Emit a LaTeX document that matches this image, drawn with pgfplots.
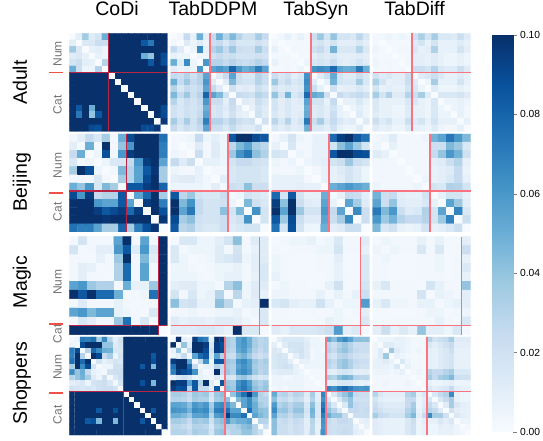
\documentclass[border=0pt]{standalone}
\usepackage{fontspec}
\setmainfont{Liberation Sans}
\usepackage{pgfplots}
\pgfplotsset{compat=1.18}
\definecolor{septick}{RGB}{240,80,70}
\pgfplotsset{
  colormap={blues}{rgb255=(247,251,255) rgb255=(222,235,247) rgb255=(198,219,239) rgb255=(158,202,225)
    rgb255=(107,174,214) rgb255=(66,146,198) rgb255=(33,113,181) rgb255=(8,81,156) rgb255=(8,48,107)},
  panel/.style={scale only axis, width=98pt, height=98pt, hide axis, anchor=north west,
    y dir=reverse, enlargelimits=false, clip=true, colormap name=blues, point meta min=0, point meta max=100},
}
% separators are thin filled bars, a little over one pixel wide
\makeatletter
\newcommand{\sepl}{\pgfsys@color@rgb@fill{0.98}{0.45}{0.50}}
\newcommand{\sepd}{\pgfsys@color@rgb@fill{0.73}{0.14}{0.27}}
\makeatother
\newcommand{\sepbar}[5]{%
  \begin{pgfscope}#1%
    \pgfpathrectangle{\pgfpoint{#2pt}{#3pt}}{\pgfpoint{#4pt}{#5pt}}\pgfusepath{fill}%
  \end{pgfscope}}
% values in units of 0.001; #1 line colour, #2 x, #3 y from top (px), #4 cells, #5 numeric features, #6 cells row by row
\newcommand{\hm}[6][\sepl]{%
  \pgfmathsetmacro{\hmy}{441-#3}%
  \pgfmathsetmacro{\hmb}{\hmy-98}%
  \pgfmathsetmacro{\hmmax}{#4-0.5}%
  \pgfmathsetmacro{\hmsx}{#2+98*#5/#4-0.7}%
  \pgfmathsetmacro{\hmsy}{\hmy-98*#5/#4-0.7}%
  \begin{axis}[panel, at={(#2pt,\hmy pt)}, xmin=-0.5, xmax=\hmmax, ymin=-0.5, ymax=\hmmax]
    \addplot[matrix plot*, mesh/cols=#4, point meta=explicit] table[header=false, row sep=\\,
      x expr={\coordindex-#4*floor((\coordindex+0.5)/#4)}, y expr={floor((\coordindex+0.5)/#4)}, meta index=0] {#6};
  \end{axis}
  \sepbar{#1}{\hmsx}{\hmb}{1.4}{98}%
  \sepbar{#1}{#2}{\hmsy}{98}{1.4}}
\newcommand{\ttl}[2]{\node[anchor=base, font=\fontsize{19.5}{22}\selectfont] at (#1pt,425pt) {#2};}
\newcommand{\rowl}[2]{\node[anchor=base, rotate=90, font=\fontsize{19.5}{22}\selectfont] at (27pt,#1pt) {#2};}
\newcommand{\subl}[2]{\node[anchor=base, rotate=90, text=black!55, font=\fontsize{12}{14}\selectfont] at (61.5pt,#1pt) {#2};}
\newcommand{\rtick}[1]{\draw[septick, line width=1.2pt] (49pt,#1pt) -- (63pt,#1pt);}
\begin{document}
\begin{tikzpicture}[x=1pt,y=1pt]
\useasboundingbox (0,0) rectangle (543,441);

% Adult
\hm[\sepd]{69.3}{33.3}{15}{6}{
0\\10\\37\\12\\18\\50\\100\\100\\100\\100\\100\\100\\100\\100\\100\\
10\\0\\14\\14\\22\\22\\100\\100\\100\\100\\100\\85\\72\\100\\100\\
37\\14\\0\\8\\10\\5\\100\\100\\100\\100\\100\\100\\100\\100\\100\\
12\\14\\8\\0\\8\\5\\100\\100\\100\\100\\100\\50\\40\\100\\90\\
18\\22\\10\\8\\0\\30\\100\\100\\100\\100\\100\\100\\85\\100\\88\\
50\\22\\5\\5\\30\\0\\100\\100\\100\\100\\100\\100\\100\\100\\100\\
100\\100\\100\\100\\100\\100\\0\\100\\100\\100\\100\\100\\100\\100\\100\\
100\\100\\100\\100\\100\\100\\100\\0\\100\\100\\100\\100\\100\\100\\100\\
100\\100\\100\\100\\100\\100\\100\\100\\0\\100\\100\\100\\100\\100\\100\\
100\\100\\100\\100\\100\\100\\100\\100\\100\\0\\100\\100\\100\\100\\100\\
100\\100\\100\\100\\100\\100\\100\\100\\100\\100\\0\\100\\100\\100\\100\\
100\\85\\100\\50\\100\\100\\100\\100\\100\\100\\100\\0\\100\\100\\90\\
100\\72\\100\\40\\85\\100\\100\\100\\100\\100\\100\\100\\0\\100\\90\\
100\\100\\100\\100\\100\\100\\100\\100\\100\\100\\100\\100\\100\\0\\97\\
100\\100\\100\\90\\88\\100\\100\\100\\100\\100\\100\\90\\90\\97\\0\\
}
\hm{170.7}{33.3}{15}{6}{
0\\3\\25\\8\\50\\10\\25\\50\\30\\45\\30\\20\\20\\35\\25\\
3\\0\\12\\5\\12\\5\\22\\25\\15\\25\\15\\15\\15\\20\\15\\
25\\12\\0\\5\\65\\8\\30\\38\\25\\38\\22\\20\\20\\35\\22\\
8\\5\\5\\0\\5\\5\\20\\25\\20\\22\\18\\18\\18\\20\\18\\
50\\12\\65\\5\\0\\60\\30\\30\\25\\30\\25\\22\\25\\30\\25\\
10\\5\\8\\5\\60\\0\\55\\60\\55\\80\\60\\50\\55\\70\\55\\
25\\22\\30\\20\\30\\55\\0\\12\\25\\55\\22\\15\\15\\30\\22\\
50\\25\\38\\25\\30\\60\\12\\0\\12\\45\\22\\18\\18\\30\\22\\
30\\15\\25\\20\\25\\55\\25\\12\\0\\20\\10\\12\\10\\22\\15\\
45\\25\\38\\22\\30\\80\\55\\45\\20\\0\\25\\22\\20\\30\\25\\
30\\15\\22\\18\\25\\60\\22\\22\\10\\25\\0\\12\\10\\22\\15\\
20\\15\\20\\18\\22\\50\\15\\18\\12\\22\\12\\0\\8\\18\\12\\
20\\15\\20\\18\\25\\55\\15\\18\\10\\20\\10\\8\\0\\20\\12\\
35\\20\\35\\20\\30\\70\\30\\30\\22\\30\\22\\18\\20\\0\\20\\
25\\15\\22\\18\\25\\55\\22\\22\\15\\25\\15\\12\\12\\20\\0\\
}
\hm{271.7}{33.3}{15}{6}{
0\\3\\8\\3\\8\\3\\22\\38\\18\\40\\18\\18\\15\\28\\15\\
3\\0\\2\\2\\3\\2\\15\\18\\12\\18\\10\\10\\10\\15\\10\\
8\\2\\0\\3\\3\\3\\20\\25\\15\\48\\15\\15\\15\\30\\15\\
3\\2\\3\\0\\2\\2\\10\\15\\12\\15\\10\\10\\10\\12\\10\\
8\\3\\3\\2\\0\\5\\15\\18\\15\\22\\12\\10\\12\\18\\12\\
3\\2\\3\\2\\5\\0\\62\\65\\62\\78\\55\\50\\52\\72\\50\\
22\\15\\20\\10\\15\\62\\0\\12\\22\\52\\18\\12\\12\\22\\15\\
38\\18\\25\\15\\18\\65\\12\\0\\8\\48\\18\\15\\15\\35\\15\\
18\\12\\15\\12\\15\\62\\22\\8\\0\\20\\8\\10\\10\\15\\10\\
40\\18\\48\\15\\22\\78\\52\\48\\20\\0\\25\\18\\22\\25\\20\\
18\\10\\15\\10\\12\\55\\18\\18\\8\\25\\0\\8\\8\\15\\8\\
18\\10\\15\\10\\10\\50\\12\\15\\10\\18\\8\\0\\5\\10\\5\\
15\\10\\15\\10\\12\\52\\12\\15\\10\\22\\8\\5\\0\\12\\5\\
28\\15\\30\\12\\18\\72\\22\\35\\15\\25\\15\\10\\12\\0\\12\\
15\\10\\15\\10\\12\\50\\15\\15\\10\\20\\8\\5\\5\\12\\0\\
}
\hm{372.7}{33.3}{15}{6}{
2\\3\\5\\3\\5\\3\\20\\33\\18\\35\\15\\15\\12\\22\\12\\
3\\0\\2\\2\\2\\2\\12\\18\\8\\18\\8\\8\\8\\12\\8\\
5\\2\\0\\2\\3\\3\\15\\8\\10\\32\\8\\8\\8\\18\\10\\
3\\2\\2\\0\\2\\2\\10\\10\\8\\12\\8\\5\\5\\8\\5\\
5\\2\\3\\2\\0\\3\\10\\10\\8\\12\\8\\5\\5\\8\\5\\
3\\2\\3\\2\\3\\0\\22\\22\\18\\30\\15\\12\\12\\22\\12\\
20\\12\\15\\10\\10\\22\\0\\12\\15\\22\\15\\8\\8\\12\\8\\
33\\18\\8\\10\\10\\22\\12\\0\\5\\35\\8\\8\\8\\18\\8\\
18\\8\\10\\8\\8\\18\\15\\5\\0\\12\\5\\5\\5\\8\\5\\
35\\18\\32\\12\\12\\30\\22\\35\\12\\0\\15\\15\\15\\18\\12\\
15\\8\\8\\8\\8\\15\\15\\8\\5\\15\\0\\5\\5\\8\\5\\
15\\8\\8\\5\\5\\12\\8\\8\\5\\15\\5\\0\\5\\8\\3\\
12\\8\\8\\5\\5\\12\\8\\8\\5\\15\\5\\5\\0\\8\\3\\
22\\12\\18\\8\\8\\22\\12\\18\\8\\18\\8\\8\\8\\0\\8\\
12\\8\\10\\5\\5\\12\\8\\8\\5\\12\\5\\3\\3\\8\\0\\
}

% Beijing
\hm[\sepd]{69.3}{134}{12}{7}{
3\\10\\25\\15\\35\\2\\50\\90\\100\\100\\100\\75\\
10\\2\\50\\2\\100\\3\\40\\60\\100\\100\\100\\70\\
25\\50\\0\\5\\88\\3\\60\\95\\100\\100\\100\\70\\
15\\2\\5\\0\\5\\15\\15\\25\\60\\95\\100\\55\\
35\\100\\88\\5\\0\\3\\45\\30\\55\\85\\98\\35\\
2\\3\\3\\15\\3\\0\\35\\30\\55\\90\\100\\35\\
50\\40\\60\\15\\45\\35\\2\\85\\85\\95\\100\\80\\
90\\60\\95\\25\\30\\30\\85\\2\\55\\78\\100\\35\\
100\\100\\100\\60\\55\\55\\85\\55\\0\\95\\100\\70\\
100\\100\\100\\95\\85\\90\\95\\78\\95\\0\\100\\88\\
100\\100\\100\\100\\98\\100\\100\\100\\100\\100\\0\\98\\
75\\70\\70\\55\\35\\35\\80\\35\\70\\88\\98\\0\\
}
\hm{170.7}{134}{12}{7}{
2\\3\\5\\25\\5\\10\\5\\85\\100\\100\\90\\85\\
3\\0\\3\\12\\3\\12\\5\\28\\45\\55\\35\\28\\
5\\3\\0\\22\\3\\12\\5\\38\\62\\72\\42\\32\\
25\\12\\22\\0\\8\\8\\5\\18\\25\\25\\20\\18\\
5\\3\\3\\8\\0\\3\\3\\15\\18\\18\\18\\15\\
10\\12\\12\\8\\3\\0\\10\\15\\18\\18\\18\\15\\
5\\5\\5\\5\\3\\10\\2\\22\\20\\42\\22\\22\\
85\\28\\38\\18\\15\\15\\22\\2\\5\\18\\15\\12\\
100\\45\\62\\25\\18\\18\\20\\5\\0\\45\\20\\15\\
100\\55\\72\\25\\18\\18\\42\\18\\45\\0\\62\\18\\
90\\35\\42\\20\\18\\18\\22\\15\\20\\62\\0\\18\\
85\\28\\32\\18\\15\\15\\22\\12\\15\\18\\18\\0\\
}
\hm{271.7}{134}{12}{7}{
3\\8\\18\\5\\3\\8\\8\\78\\95\\100\\85\\75\\
8\\0\\15\\3\\3\\8\\8\\18\\42\\55\\38\\18\\
18\\15\\0\\5\\3\\8\\8\\85\\100\\100\\90\\88\\
5\\3\\5\\0\\5\\8\\10\\18\\22\\38\\22\\18\\
3\\3\\3\\5\\0\\3\\8\\8\\12\\18\\12\\5\\
8\\8\\8\\8\\3\\0\\8\\8\\10\\18\\12\\5\\
8\\8\\8\\10\\8\\8\\0\\50\\55\\60\\55\\50\\
78\\18\\85\\18\\8\\8\\50\\2\\8\\25\\22\\10\\
95\\42\\100\\22\\12\\10\\55\\8\\0\\55\\35\\12\\
100\\55\\100\\38\\18\\18\\60\\25\\55\\0\\65\\22\\
85\\38\\90\\22\\12\\12\\55\\22\\35\\65\\0\\22\\
75\\18\\88\\18\\5\\5\\50\\10\\12\\22\\22\\0\\
}
\hm{372.7}{134}{12}{7}{
3\\5\\12\\3\\3\\3\\5\\48\\55\\72\\60\\45\\
5\\0\\8\\3\\3\\3\\3\\22\\22\\45\\38\\15\\
12\\8\\0\\3\\3\\3\\3\\25\\40\\60\\48\\20\\
3\\3\\3\\0\\3\\3\\3\\10\\12\\22\\30\\8\\
3\\3\\3\\3\\0\\3\\3\\8\\10\\12\\25\\6\\
3\\3\\3\\3\\3\\0\\5\\8\\10\\15\\25\\8\\
5\\3\\3\\3\\3\\5\\0\\18\\15\\32\\30\\18\\
48\\22\\25\\10\\8\\8\\18\\0\\8\\18\\18\\8\\
55\\22\\40\\12\\10\\10\\15\\8\\0\\55\\38\\10\\
72\\45\\60\\22\\12\\15\\32\\18\\55\\0\\68\\15\\
60\\38\\48\\30\\25\\25\\30\\18\\38\\68\\0\\22\\
45\\15\\20\\8\\6\\8\\18\\8\\10\\15\\22\\0\\
}

% Magic
\hm[\sepd]{69.3}{236.7}{11}{10}{
2\\18\\3\\3\\3\\55\\100\\3\\55\\3\\100\\
18\\2\\3\\10\\10\\60\\85\\12\\60\\15\\100\\
3\\3\\2\\8\\3\\38\\100\\3\\45\\10\\100\\
3\\10\\8\\2\\3\\32\\78\\3\\55\\3\\100\\
3\\10\\3\\3\\2\\32\\78\\3\\55\\3\\100\\
55\\60\\38\\32\\32\\2\\50\\8\\8\\38\\100\\
100\\85\\100\\78\\78\\50\\2\\3\\5\\75\\100\\
3\\12\\3\\3\\3\\8\\3\\2\\3\\3\\100\\
55\\60\\45\\55\\55\\8\\5\\3\\2\\15\\100\\
3\\15\\10\\3\\3\\38\\75\\3\\15\\2\\100\\
100\\100\\100\\100\\100\\100\\100\\100\\100\\100\\0\\
}
\hm{170.7}{236.7}{11}{10}{
2\\15\\15\\5\\5\\10\\18\\42\\3\\12\\12\\
15\\2\\5\\5\\5\\12\\3\\18\\3\\8\\12\\
15\\5\\2\\3\\5\\12\\15\\20\\5\\10\\12\\
5\\5\\3\\2\\3\\5\\5\\8\\3\\10\\15\\
5\\5\\5\\3\\2\\5\\8\\8\\3\\8\\15\\
10\\12\\12\\5\\5\\2\\30\\42\\5\\12\\12\\
18\\3\\15\\5\\8\\30\\2\\28\\5\\12\\8\\
42\\18\\20\\8\\8\\42\\28\\2\\8\\10\\100\\
3\\3\\5\\3\\3\\5\\5\\8\\2\\5\\15\\
12\\8\\10\\10\\8\\12\\12\\10\\5\\2\\15\\
12\\12\\12\\15\\15\\12\\8\\100\\15\\15\\2\\
}
\hm{271.7}{236.7}{11}{10}{
2\\3\\5\\5\\8\\2\\5\\15\\3\\3\\12\\
3\\2\\3\\3\\3\\5\\5\\18\\3\\3\\8\\
5\\3\\2\\2\\2\\3\\3\\10\\2\\2\\15\\
5\\3\\2\\2\\2\\3\\3\\8\\2\\2\\15\\
8\\3\\2\\2\\2\\2\\3\\8\\3\\2\\15\\
2\\5\\3\\3\\2\\2\\8\\20\\2\\3\\18\\
5\\5\\3\\3\\3\\8\\2\\8\\3\\8\\22\\
15\\18\\10\\8\\8\\20\\8\\2\\5\\5\\58\\
3\\3\\2\\2\\3\\2\\3\\5\\2\\3\\10\\
3\\3\\2\\2\\2\\3\\8\\5\\3\\2\\15\\
12\\8\\15\\15\\15\\18\\22\\58\\10\\15\\2\\
}
\hm{372.7}{236.7}{11}{10}{
2\\5\\3\\3\\3\\8\\3\\8\\2\\2\\10\\
5\\2\\5\\3\\3\\15\\3\\15\\2\\2\\22\\
3\\5\\2\\2\\2\\3\\3\\5\\2\\3\\8\\
3\\3\\2\\2\\2\\3\\3\\5\\2\\3\\14\\
3\\3\\2\\2\\2\\3\\3\\3\\2\\3\\8\\
8\\15\\3\\3\\3\\2\\18\\8\\3\\3\\40\\
3\\3\\3\\3\\3\\18\\2\\8\\5\\3\\10\\
8\\15\\5\\5\\3\\8\\8\\2\\5\\8\\10\\
2\\2\\2\\2\\2\\3\\5\\5\\2\\3\\5\\
2\\2\\3\\3\\3\\3\\3\\8\\3\\2\\15\\
10\\22\\8\\14\\8\\40\\10\\10\\5\\15\\2\\
}

% Shoppers
\hm[\sepd]{69.3}{337}{18}{10}{
2\\5\\72\\70\\75\\35\\65\\30\\10\\20\\100\\100\\100\\100\\100\\100\\100\\100\\
5\\2\\90\\100\\100\\100\\40\\40\\12\\18\\100\\100\\100\\100\\100\\100\\100\\100\\
72\\90\\2\\30\\78\\65\\50\\48\\15\\15\\100\\100\\100\\100\\100\\100\\100\\100\\
70\\100\\30\\2\\100\\90\\25\\35\\5\\18\\100\\100\\100\\100\\100\\85\\100\\100\\
75\\100\\78\\100\\2\\18\\8\\12\\18\\15\\100\\100\\100\\100\\100\\88\\100\\100\\
35\\100\\65\\90\\18\\2\\5\\5\\20\\20\\100\\100\\100\\85\\100\\45\\100\\100\\
65\\40\\50\\25\\8\\5\\2\\20\\22\\22\\100\\100\\100\\100\\100\\100\\100\\100\\
30\\40\\48\\35\\12\\5\\20\\2\\15\\22\\100\\100\\100\\100\\100\\100\\100\\100\\
10\\12\\15\\5\\18\\20\\22\\15\\2\\18\\100\\100\\100\\88\\100\\45\\100\\100\\
20\\18\\15\\18\\15\\20\\22\\22\\18\\2\\100\\100\\100\\100\\100\\100\\100\\100\\
100\\100\\100\\100\\100\\100\\100\\100\\100\\100\\0\\100\\100\\100\\100\\100\\100\\100\\
100\\100\\100\\100\\100\\100\\100\\100\\100\\100\\100\\0\\100\\100\\100\\100\\100\\100\\
100\\100\\100\\100\\100\\100\\100\\100\\100\\100\\100\\100\\0\\100\\100\\100\\100\\100\\
100\\100\\100\\100\\100\\85\\100\\100\\88\\100\\100\\100\\100\\0\\100\\85\\100\\100\\
100\\100\\100\\100\\100\\100\\100\\100\\100\\100\\100\\100\\100\\100\\0\\100\\100\\100\\
100\\100\\100\\85\\88\\45\\100\\100\\45\\100\\100\\100\\100\\85\\100\\0\\100\\100\\
100\\100\\100\\100\\100\\100\\100\\100\\100\\100\\100\\100\\100\\100\\100\\100\\0\\100\\
100\\100\\100\\100\\100\\100\\100\\100\\100\\100\\100\\100\\100\\100\\100\\100\\100\\0\\
}
\hm{170.7}{337}{18}{10}{
2\\100\\8\\5\\95\\75\\70\\8\\100\\95\\35\\30\\55\\62\\50\\35\\28\\30\\
100\\2\\40\\10\\100\\100\\95\\15\\95\\88\\35\\30\\55\\60\\50\\35\\28\\30\\
8\\40\\2\\25\\100\\100\\90\\20\\95\\90\\32\\28\\52\\58\\45\\32\\25\\30\\
5\\10\\25\\2\\55\\78\\85\\15\\55\\30\\25\\22\\42\\48\\38\\25\\20\\25\\
95\\100\\100\\55\\2\\25\\62\\5\\85\\85\\38\\35\\60\\65\\55\\38\\30\\35\\
75\\100\\100\\78\\25\\2\\8\\8\\30\\25\\35\\32\\55\\62\\55\\35\\30\\32\\
70\\95\\90\\85\\62\\8\\2\\5\\100\\25\\38\\32\\60\\65\\58\\38\\28\\32\\
8\\15\\20\\15\\5\\8\\5\\2\\12\\10\\18\\15\\35\\40\\30\\20\\15\\18\\
100\\95\\95\\55\\85\\30\\100\\12\\2\\85\\38\\35\\62\\70\\58\\38\\32\\38\\
95\\88\\90\\30\\85\\25\\25\\10\\85\\2\\42\\38\\65\\72\\62\\42\\35\\40\\
35\\35\\32\\25\\38\\35\\38\\18\\38\\42\\0\\40\\60\\75\\95\\60\\30\\25\\
30\\30\\28\\22\\35\\32\\32\\15\\35\\38\\40\\0\\45\\55\\65\\45\\30\\30\\
55\\55\\52\\42\\60\\55\\60\\35\\62\\65\\60\\45\\0\\55\\65\\50\\35\\30\\
62\\60\\58\\48\\65\\62\\65\\40\\70\\72\\75\\55\\55\\0\\75\\50\\42\\40\\
50\\50\\45\\38\\55\\55\\58\\30\\58\\62\\95\\65\\65\\75\\0\\55\\45\\40\\
35\\35\\32\\25\\38\\35\\38\\20\\38\\42\\60\\45\\50\\50\\55\\0\\30\\30\\
28\\28\\25\\20\\30\\30\\28\\15\\32\\35\\30\\30\\35\\42\\45\\30\\0\\22\\
30\\30\\30\\25\\35\\32\\32\\18\\38\\40\\25\\30\\30\\40\\40\\30\\22\\0\\
}
\hm{271.7}{337}{18}{10}{
0\\10\\15\\15\\15\\15\\10\\5\\5\\3\\52\\42\\58\\65\\55\\42\\42\\42\\
10\\0\\12\\18\\18\\18\\12\\5\\5\\5\\28\\22\\30\\38\\30\\22\\22\\22\\
15\\12\\0\\15\\18\\20\\12\\3\\5\\3\\30\\25\\35\\40\\32\\25\\22\\22\\
15\\18\\15\\0\\10\\18\\12\\3\\5\\5\\22\\18\\28\\30\\25\\20\\18\\18\\
15\\18\\18\\10\\0\\8\\8\\5\\5\\5\\30\\25\\35\\40\\32\\25\\22\\22\\
15\\18\\20\\18\\8\\0\\5\\5\\5\\5\\28\\22\\35\\40\\32\\22\\20\\20\\
10\\12\\12\\12\\8\\5\\0\\3\\3\\3\\12\\10\\15\\18\\15\\10\\10\\10\\
5\\5\\3\\3\\5\\5\\3\\0\\3\\3\\35\\30\\42\\48\\45\\30\\28\\28\\
5\\5\\5\\5\\5\\5\\3\\3\\0\\3\\10\\10\\15\\15\\15\\10\\8\\8\\
3\\5\\3\\5\\5\\5\\3\\3\\3\\0\\68\\62\\72\\78\\70\\62\\60\\62\\
52\\28\\30\\22\\30\\28\\12\\35\\10\\68\\0\\15\\30\\40\\50\\25\\22\\22\\
42\\22\\25\\18\\25\\22\\10\\30\\10\\62\\15\\0\\15\\30\\40\\20\\20\\20\\
58\\30\\35\\28\\35\\35\\15\\42\\15\\72\\30\\15\\0\\15\\40\\25\\22\\22\\
65\\38\\40\\30\\40\\40\\18\\48\\15\\78\\40\\30\\15\\0\\25\\25\\22\\25\\
55\\30\\32\\25\\32\\32\\15\\45\\15\\70\\50\\40\\40\\25\\0\\22\\22\\22\\
42\\22\\25\\20\\25\\22\\10\\30\\10\\62\\25\\20\\25\\25\\22\\0\\8\\10\\
42\\22\\22\\18\\22\\20\\10\\28\\8\\60\\22\\20\\22\\22\\22\\8\\0\\8\\
42\\22\\22\\18\\22\\20\\10\\28\\8\\62\\22\\20\\22\\25\\22\\10\\8\\0\\
}
\hm{372.7}{337}{18}{10}{
0\\5\\5\\5\\8\\8\\5\\3\\3\\3\\30\\18\\22\\25\\35\\12\\12\\12\\
5\\0\\12\\12\\8\\8\\5\\3\\3\\3\\15\\10\\15\\20\\25\\10\\10\\10\\
5\\12\\0\\38\\12\\8\\5\\3\\5\\3\\10\\8\\12\\15\\22\\8\\8\\8\\
5\\12\\38\\0\\8\\5\\3\\3\\3\\3\\10\\8\\12\\15\\18\\8\\8\\8\\
8\\8\\12\\8\\0\\15\\5\\3\\3\\3\\10\\8\\12\\15\\18\\8\\8\\8\\
8\\8\\8\\5\\15\\0\\8\\3\\3\\3\\10\\8\\12\\15\\18\\8\\8\\8\\
5\\5\\5\\3\\5\\8\\0\\3\\5\\3\\30\\25\\25\\30\\35\\15\\15\\15\\
3\\3\\3\\3\\3\\3\\3\\0\\3\\3\\35\\25\\35\\38\\45\\22\\20\\20\\
3\\3\\5\\3\\3\\3\\5\\3\\0\\3\\8\\5\\5\\8\\10\\5\\5\\5\\
3\\3\\3\\3\\3\\3\\3\\3\\3\\0\\15\\10\\12\\15\\25\\10\\8\\8\\
30\\15\\10\\10\\10\\10\\30\\35\\8\\15\\0\\15\\25\\30\\65\\8\\5\\5\\
18\\10\\8\\8\\8\\8\\25\\25\\5\\10\\15\\0\\15\\25\\35\\8\\5\\5\\
22\\15\\12\\12\\12\\12\\25\\35\\5\\12\\25\\15\\0\\12\\35\\15\\10\\8\\
25\\20\\15\\15\\15\\15\\30\\38\\8\\15\\30\\25\\12\\0\\20\\10\\8\\8\\
35\\25\\22\\18\\18\\18\\35\\45\\10\\25\\65\\35\\35\\20\\0\\15\\10\\8\\
12\\10\\8\\8\\8\\8\\15\\22\\5\\10\\8\\8\\15\\10\\15\\0\\5\\5\\
12\\10\\8\\8\\8\\8\\15\\20\\5\\8\\5\\5\\10\\8\\10\\5\\0\\3\\
12\\10\\8\\8\\8\\8\\15\\20\\5\\8\\5\\5\\8\\8\\8\\5\\3\\0\\
}

% colour bar
\begin{axis}[scale only axis, width=21pt, height=397pt, at={(492pt,9pt)}, anchor=south west,
  enlargelimits=false, colormap name=blues, xmin=0, xmax=1, ymin=0, ymax=0.1,
  hide x axis, axis y line*=right, y axis line style={draw=none}, tick align=outside,
  major tick length=3.5pt, ytick={0,0.02,0.04,0.06,0.08,0.1},
  yticklabel style={font=\fontsize{10.3}{12}\selectfont, /pgf/number format/fixed,
    /pgf/number format/fixed zerofill, /pgf/number format/precision=2,
    /pgf/number format/assume math mode=true},
  scaled y ticks=false, point meta min=0, point meta max=0.1]
  \addplot[surf, shader=interp, mesh/cols=2, point meta=y] coordinates {(0,0) (1,0) (0,0.1) (1,0.1)};
\end{axis}

% titles and row labels
\ttl{117}{CoDi}\ttl{213}{TabDDPM}\ttl{316}{TabSyn}\ttl{414.5}{TabDiff}
\rowl{358.5}{Adult}\rowl{259}{Beijing}\rowl{159}{Magic}\rowl{58}{Shoppers}
\subl{387}{Num}\subl{336}{Cat}
\subl{275.5}{Num}\subl{229}{Cat}
\subl{159}{Num}\subl{107}{Cat}
\subl{74}{Num}\subl{26}{Cat}
\rtick{368.3}\rtick{248}\rtick{117}\rtick{48}
\end{tikzpicture}
\end{document}
